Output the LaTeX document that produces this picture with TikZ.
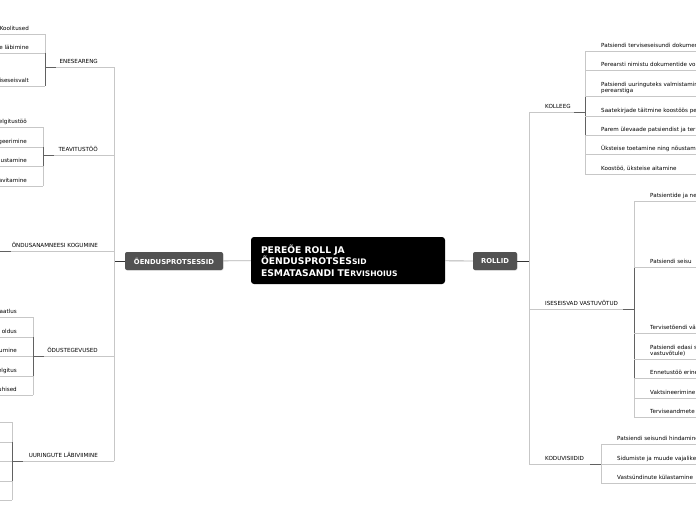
\documentclass[tikz,border=0pt]{standalone}
\usepackage{fontspec}
\setmainfont{DejaVu Sans}
\usetikzlibrary{shadows}

\begin{document}
\begin{tikzpicture}[x=1pt,y=-1pt,
    leafr/.style={font=\fontsize{5.6}{6}\selectfont,inner sep=0pt,anchor=base west,align=left},
    leafl/.style={font=\fontsize{5.6}{6}\selectfont,inner sep=0pt,anchor=base east},
    twig/.style={draw=black!22,line width=0.8pt},
    knot/.style={draw=black!62,line width=0.9pt},
    topic/.style={fill=black!68,rounded corners=2pt,text=white,
        font=\bfseries\fontsize{6.8}{7}\selectfont,minimum height=18pt,inner xsep=0pt,
        drop shadow={opacity=0.25,shadow xshift=0.6pt,shadow yshift=-0.6pt}}]
    \useasboundingbox (0,0) rectangle (696,520);
    \clip (0,0) rectangle (696,520);

    \node[fill=black,rounded corners=3pt,text=white,minimum width=194pt,minimum height=47pt,
        text width=174pt,inner xsep=10pt,align=left,font=\bfseries\fontsize{9.2}{11.5}\selectfont]
        (root) at (348,260.5)
        {PEREÕE ROLL JA\\ÕENDUSPROTSES{\fontsize{7.6}{11.5}\selectfont SID}\\ESMATASANDI TE{\fontsize{7.6}{11.5}\selectfont RVISHOIUS}};
    \node[topic,minimum width=98pt] (proc) at (174,261) {ÕENDUSPROTSESSID};
    \node[topic,minimum width=44pt] (roll) at (495,261) {ROLLID};
    \coordinate (lhub) at (114,261);
    \coordinate (rhub) at (529,261);

    \draw[draw=black!30,line width=0.8pt] (root) -- (proc);
    \draw[draw=black!30,line width=0.8pt] (root) -- (roll);
    \draw[draw=black!80,line width=0.9pt] (proc.west) -- (lhub);
    \draw[draw=black!80,line width=0.9pt] (roll.east) -- (rhub);

    % left side
    \draw[twig] (114,67) -- (114,461);
    \foreach \y/\x/\t in {67/45/ENESEARENG,155/43/TEAVITUSTÖÖ,251/0/ÕNDUSANAMNEESI KOGUMINE,
                          356/33/ÕDUSTEGEVUSED,461/12/UURINGUTE LÄBIVIIMINE}{
        \coordinate (lj\y) at (\x,\y);
        \draw[twig] (lj\y) -- (lhub |- lj\y);
        \draw[knot] (lj\y) -- ++(11,0);
        \node[leafl] (lt\y) at (98,\y-4) {\t};
    }
    \draw[twig] (45,34) -- (45,86);
    \draw[knot] (45,53) -- (45,86);
    \foreach \y/\t in {34/Koolitused,53/e läbimine,86/iseseisvalt}{
        \draw[twig] (0,\y) -- (45,\y);
        \node[leafl] (ea\y) at (29,\y-4) {\t};
    }
    \draw[twig] (43,127) -- (43,186);
    \draw[knot] (43,147) -- (43,166);
    \foreach \y/\t in {127/elgitustöö,147/geerimine,166/ustamine,186/avitamine}{
        \draw[twig] (0,\y) -- (43,\y);
        \node[leafl] (tv\y) at (27,\y-4) {\t};
    }
    \draw[twig] (33,317) -- (33,395);
    \draw[knot] (33,337) -- (33,376);
    \foreach \y/\t in {317/aatlus,337/oldus,356/umine,376/elgitus,395/uhised}{
        \draw[twig] (0,\y) -- (33,\y);
        \node[leafl] (od\y) at (17,\y-4) {\t};
    }
    \draw[twig] (12,422) -- (12,500);
    \draw[knot] (12,442) -- (12,481);
    \foreach \y in {422,442,461,481,500}
        \draw[twig] (0,\y) -- (12,\y);

    % right side
    \draw[twig] (529,112) -- (529,464);
    \foreach \y/\x/\t in {112/585/KOLLEEG,309/634/ISESEISVAD VASTUVÕTUD,464/601/KODUVISIIDID}{
        \coordinate (rj\y) at (\x,\y);
        \draw[twig] (rhub |- rj\y) -- (rj\y);
        \draw[knot] (rj\y) -- ++(-11,0);
        \node[leafr] (rt\y) at (545,\y-4) {\t};
    }
    \draw[twig] (585,51) -- (585,174);
    \draw[knot] (585,96) -- (585,135);
    \foreach \y/\t in {51/Patsiendi terviseseisundi dokumen,
                       70/Perearsti nimistu dokumentide vor,
                       96/{Patsiendi uuringuteks valmistamin\\perearstiga},
                       116/Saatekirjade täitmine koostöös pe,
                       135/Parem ülevaade patsiendist ja ter,
                       154/Üksteise toetamine ning nõustami,
                       174/{Koostöö, üksteise aitamine}}{
        \draw[twig] (585,\y) -- (696,\y);
        \node[leafr] (ko\y) at (601,\y-4) {\t};
    }
    \draw[twig] (634,201) -- (634,417);
    \draw[knot] (634,267) -- (634,378);
    \foreach \y/\t in {201/Patsientide ja ne,
                       267/Patsiendi seisu,
                       333/Tervisetõendi vä,
                       359/{Patsiendi edasi s\\vastuvõtule)},
                       378/Ennetustöö erine,
                       398/Vaktsineerimine,
                       417/Terviseandmete}{
        \draw[twig] (634,\y) -- (696,\y);
        \node[leafr] (is\y) at (650,\y-4) {\t};
    }
    \draw[twig] (601,444) -- (601,483);
    \foreach \y/\t in {444/Patsiendi seisundi hindamine,464/Sidumiste ja muude vajalike,
                       483/Vastsündinute külastamine}{
        \draw[twig] (601,\y) -- (696,\y);
        \node[leafr] (kv\y) at (617,\y-4) {\t};
    }
\end{tikzpicture}
\end{document}
